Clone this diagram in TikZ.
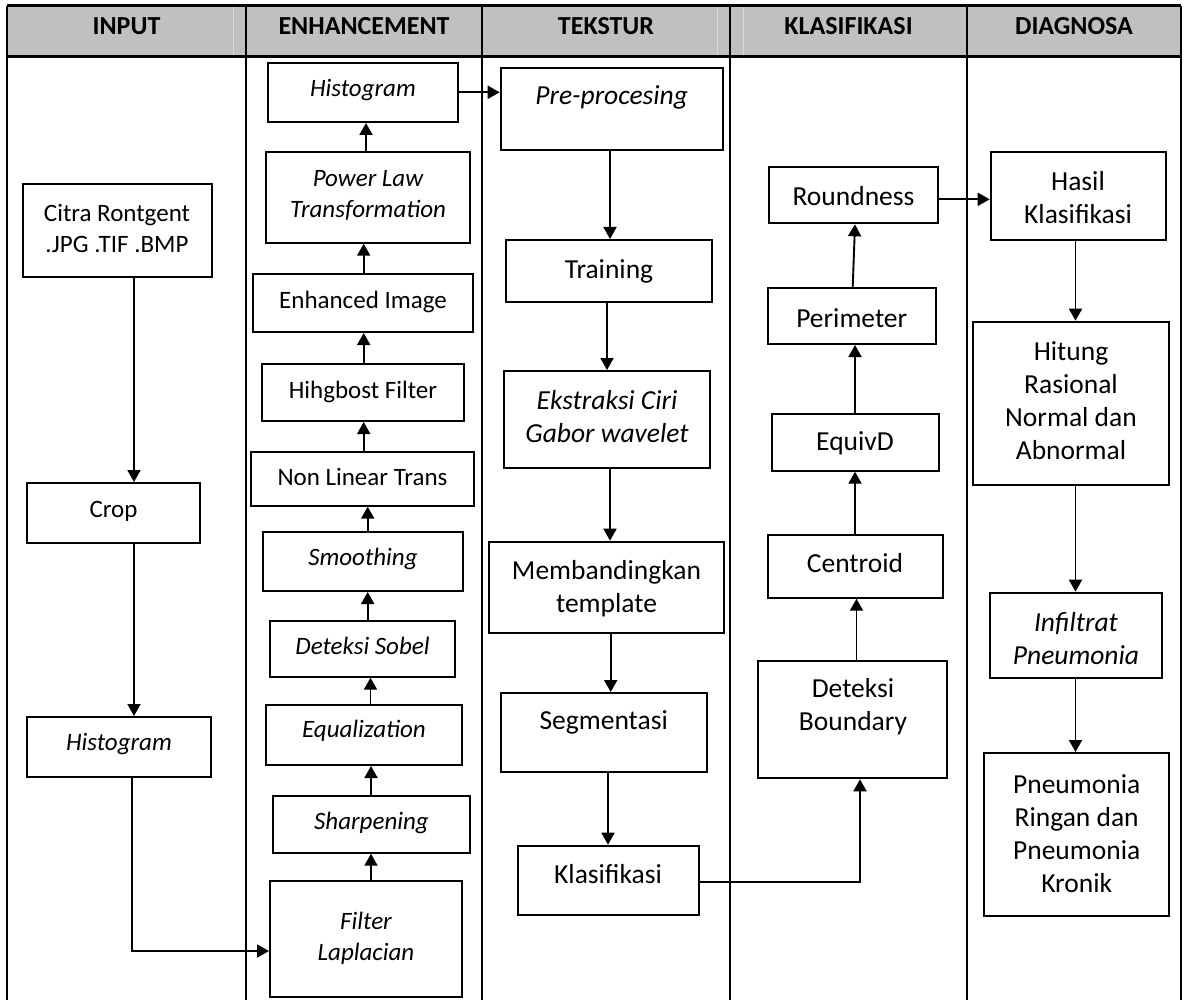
\documentclass[tikz,border=0pt]{standalone}
\usepackage{fontspec}
\setmainfont{Carlito}
\usetikzlibrary{arrows.meta,fit}
\definecolor{hdr}{RGB}{192,192,192}
\definecolor{hdrline}{RGB}{218,218,218}
\newcommand\mybox[5]{\node[bxs, fit={(#2,#3)(#4,#5)}] (#1) {};}
\begin{document}
\begin{tikzpicture}[x=0.5pt,y=-0.5pt,
  bxs/.style={draw=black, line width=1pt, inner sep=0pt},
  tx/.style={align=center, font=\fontsize{12.5}{15.5}\selectfont, inner sep=0pt},
  itx/.style={align=center, font=\fontsize{12.5}{15.5}\selectfont\itshape, inner sep=0pt},
  txb/.style={align=center, font=\fontsize{13.75}{16.5}\selectfont, inner sep=0pt},
  itxb/.style={align=center, font=\fontsize{13.75}{16.5}\selectfont\itshape, inner sep=0pt},
  hd/.style={font=\fontsize{13}{16}\selectfont\bfseries, anchor=base, inner sep=0pt},
  arr/.style={line width=0.95pt, -{Triangle[length=6pt,width=6.5pt]}},
  tbl/.style={line width=1.4pt}]
\useasboundingbox (0,0) rectangle (1187,1000);
% table
\fill[hdr] (7,5.7) rectangle (1181,56.7);
\draw[hdrline, line width=0.5pt] (233,5.7) -- (233,56.7) (717,5.7) -- (717,56.7) (743,5.7) -- (743,56.7);
\draw[tbl] (7,5.7) -- (1181,5.7) (7,56.7) -- (1181,56.7);
\draw[tbl] (7,5.7) -- (7,1000) (246,5.7) -- (246,1000) (482,5.7) -- (482,1000)
  (730,5.7) -- (730,1000) (967,5.7) -- (967,1000) (1181,5.7) -- (1181,1000);
\node[hd] (h1) at (126.5,35) {INPUT};
\node[hd] (h2) at (364,35) {ENHANCEMENT};
\node[hd] (h3) at (606,35) {TEKSTUR};
\node[hd] (h4) at (848.5,35) {KLASIFIKASI};
\node[hd] (h5) at (1074,35) {DIAGNOSA};
% INPUT
\mybox{citra}{22.7}{184}{211.7}{276.7}
\node[tx] (tcitra) at (117,228) {Citra Rontgent\\.JPG .TIF .BMP};
\mybox{crop}{27}{483}{200}{543}
\node[tx] (tcrop) at (113.5,511) {Crop};
\mybox{histA}{27}{717}{211}{777}
\node[itx] (thistA) at (119,744) {Histogram};
% ENHANCEMENT
\mybox{histB}{268}{62.7}{458}{122}
\node[itx] (thistB) at (363,90) {Histogram};
\mybox{power}{266}{151.7}{470}{242.7}
\node[itx] (tpower) at (368,195) {Power Law\\Transformation};
\mybox{enh}{253}{274}{473}{332}
\node[tx] (tenh) at (363,302) {Enhanced Image};
\mybox{hihg}{262}{364}{464}{421}
\node[tx] (thihg) at (363,392) {Hihgbost Filter};
\mybox{nonlin}{250.7}{451.7}{474}{505.7}
\node[tx] (tnonlin) at (362.5,477) {Non Linear Trans};
\mybox{smooth}{263}{531.7}{463}{591}
\node[itx] (tsmooth) at (363,559) {Smoothing};
\mybox{sobel}{270}{621}{455}{676.7}
\node[itx] (tsobel) at (362.5,646) {Deteksi Sobel};
\mybox{equal}{266}{705}{462}{765}
\node[itx] (tequal) at (364,731) {Equalization};
\mybox{sharp}{273}{795.7}{470}{852.7}
\node[itx] (tsharp) at (371.5,823) {Sharpening};
\mybox{filter}{270}{881}{462}{997}
\node[itx] (tfilter) at (366,938) {Filter\\Laplacian};
% TEKSTUR
\mybox{pre}{500.7}{68.3}{722.7}{150}
\node[itxb] (tpre) at (611.7,97) {Pre-procesing};
\mybox{train}{506}{240}{712}{302}
\node[txb] (ttrain) at (609,271) {Training};
\mybox{ekstr}{504}{371}{710}{468}
\node[itxb] (tekstr) at (607,417) {Ekstraksi Ciri\\Gabor wavelet};
\mybox{memb}{489}{541.7}{724}{633}
\node[txb] (tmemb) at (606.5,589) {Membandingkan\\template};
\mybox{segm}{500.7}{693}{706.7}{772}
\node[txb] (tsegm) at (603.7,722) {Segmentasi};
\mybox{klas}{517.7}{845.7}{698.7}{915}
\node[txb] (tklas) at (608,874) {Klasifikasi};
% KLASIFIKASI
\mybox{round}{769.3}{167}{937.7}{223.3}
\node[txb] (tround) at (853.5,196) {Roundness};
\mybox{perim}{767.7}{288}{935.7}{344}
\node[txb] (tperim) at (851.7,318) {Perimeter};
\mybox{equiv}{771.7}{414}{939}{470.7}
\node[txb] (tequiv) at (855,443) {EquivD};
\mybox{centr}{767.7}{535}{943}{597.7}
\node[txb] (tcentr) at (855,563) {Centroid};
\mybox{detek}{758.3}{661}{947.3}{778.3}
\node[txb] (tdetek) at (853,707) {Deteksi\\Boundary};
% DIAGNOSA
\mybox{hasil}{990.7}{151.7}{1166}{240.3}
\node[txb] (thasil) at (1078,198) {Hasil\\Klasifikasi};
\mybox{hitung}{973}{321.7}{1169}{485}
\node[txb] (thitung) at (1071,401) {Hitung\\Rasional\\Normal dan\\Abnormal};
\mybox{infil}{990}{592.7}{1161.7}{678.3}
\node[itxb] (tinfil) at (1076,639) {Infiltrat\\Pneumonia};
\mybox{pneu}{984.3}{753}{1169}{915.7}
\node[txb] (tpneu) at (1076.7,834) {Pneumonia\\Ringan dan\\Pneumonia\\Kronik};
% connector positions
\coordinate (xa) at (134,0);
\coordinate (xh) at (132,0);
\coordinate (yh) at (0,951);
\coordinate (xe1) at (371,0);
\coordinate (xe2) at (370.5,0);
\coordinate (xe3) at (367.7,0);
\coordinate (xe4) at (363.7,0);
\coordinate (xe5) at (366,0);
\coordinate (yp) at (0,92.3);
\coordinate (xt1) at (610,0);
\coordinate (xt2) at (607,0);
\coordinate (xt3) at (610.7,0);
\coordinate (xt4) at (608,0);
\coordinate (yk) at (0,882);
\coordinate (xk0) at (860,0);
\coordinate (xk1) at (856.5,0);
\coordinate (xk2) at (855,0);
\coordinate (xk3) at (852.7,0);
\coordinate (yr) at (0,199.3);
\coordinate (xd) at (1075.5,0);
% INPUT arrows
\draw[arr] (citra.south -| xa) -- (crop.north -| xa);
\draw[arr] (crop.south -| xa) -- (histA.north -| xa);
\draw[arr] (histA.south -| xh) |- (filter.west |- yh);
% ENHANCEMENT arrows
\draw[arr] (filter.north -| xe1) -- (sharp.south -| xe1);
\draw[arr] (sharp.north -| xe1) -- (equal.south -| xe1);
\draw[arr] (equal.north -| xe2) -- (sobel.south -| xe2);
\draw[arr] (sobel.north -| xe3) -- (smooth.south -| xe3);
\draw[arr] (smooth.north -| xe3) -- (nonlin.south -| xe3);
\draw[arr] (nonlin.north -| xe4) -- (hihg.south -| xe4);
\draw[arr] (hihg.north -| xe4) -- (enh.south -| xe4);
\draw[arr] (enh.north -| xe4) -- (power.south -| xe4);
\draw[arr] (power.north -| xe5) -- (histB.south -| xe5);
\draw[arr] (histB.east |- yp) -- (pre.west |- yp);
% TEKSTUR arrows
\draw[arr] (pre.south -| xt1) -- (train.north -| xt1);
\draw[arr] (train.south -| xt2) -- (ekstr.north -| xt2);
\draw[arr] (ekstr.south -| xt1) -- (memb.north -| xt1);
\draw[arr] (memb.south -| xt3) -- (segm.north -| xt3);
\draw[arr] (segm.south -| xt4) -- (klas.north -| xt4);
\draw[arr] (klas.east |- yk) -| (detek.south -| xk0);
% KLASIFIKASI arrows
\draw[arr] (detek.north -| xk1) -- (centr.south -| xk1);
\draw[arr] (centr.north -| xk2) -- (equiv.south -| xk2);
\draw[arr] (equiv.north -| xk2) -- (perim.south -| xk2);
\draw[arr] (perim.north -| xk3) -- (round.south -| xk2);
\draw[arr] (round.east |- yr) -- (hasil.west |- yr);
% DIAGNOSA arrows
\draw[arr] (hasil.south -| xd) -- (hitung.north -| xd);
\draw[arr] (hitung.south -| xd) -- (infil.north -| xd);
\draw[arr] (infil.south -| xd) -- (pneu.north -| xd);
\end{tikzpicture}
\end{document}
